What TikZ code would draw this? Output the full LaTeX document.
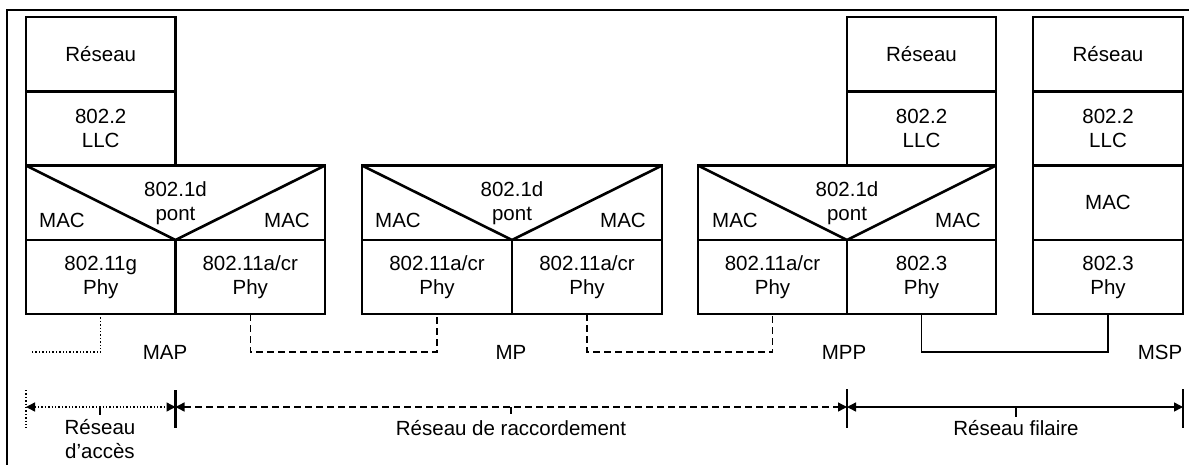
\documentclass[tikz,border=0pt]{standalone}
\usepackage{fontspec}
\setmainfont{Liberation Sans}
\usetikzlibrary{arrows.meta}
\begin{document}
\begin{tikzpicture}[x=1pt,y=-1pt,
  txt/.style={font=\fontsize{20.5}{24}\selectfont},
  cell/.style={draw, line width=2.6pt, inner sep=0pt, outer sep=0pt, align=center, txt},
  lbl/.style={inner sep=0pt, align=center, txt},
  conn/.style={line width=1.4pt},
  dotline/.style={dash pattern=on 1.4pt off 2pt},
  dashline/.style={dash pattern=on 7pt off 4pt},
  tick/.style={line width=2.2pt},
  twotip/.style={{Triangle[length=9pt,width=9pt]}-{Triangle[length=9pt,width=9pt]}},
  vee/.style={line width=2.6pt, line join=round}
]
\useasboundingbox (0,0) rectangle (1189,464);
\draw[line width=1.8pt] (7,480) -- (7,10) -- (1200,10);

% ---------- MAP ----------
\node[cell, minimum width=149.5pt, minimum height=74.5pt] (mapR) at (100.75,54.25) {Réseau};
\node[cell, minimum width=149.5pt, minimum height=74pt] (mapL) at (100.75,128.5) {802.2\\LLC};
\node[cell, minimum width=299pt, minimum height=74.5pt] (mapM) at (175.5,202.75) {};
\node[cell, minimum width=149.5pt, minimum height=74pt] (mapP1) at (100.75,277) {802.11g\\Phy};
\node[cell, minimum width=149.5pt, minimum height=74pt] (mapP2) at (250.25,277) {802.11a/cr\\Phy};
\draw[vee] (mapM.north west) -- (mapM.south) -- (mapM.north east);
\node[lbl] (mapB) at (175.5,203) {802.1d\\pont};
\node[lbl] (mapML) at (62,220) {MAC};
\node[lbl] (mapMR) at (287,220) {MAC};

% ---------- MP ----------
\node[cell, minimum width=300pt, minimum height=74.5pt] (mpM) at (512,202.75) {};
\node[cell, minimum width=150pt, minimum height=74pt] (mpP1) at (437,277) {802.11a/cr\\Phy};
\node[cell, minimum width=150pt, minimum height=74pt] (mpP2) at (587,277) {802.11a/cr\\Phy};
\draw[vee] (mpM.north west) -- (mpM.south) -- (mpM.north east);
\node[lbl] (mpB) at (512,203) {802.1d\\pont};
\node[lbl] (mpML) at (398,220) {MAC};
\node[lbl] (mpMR) at (623,220) {MAC};

% ---------- MPP ----------
\node[cell, minimum width=149pt, minimum height=74.5pt] (mppR) at (921.5,54.25) {Réseau};
\node[cell, minimum width=149pt, minimum height=74pt] (mppL) at (921.5,128.5) {802.2\\LLC};
\node[cell, minimum width=298pt, minimum height=74.5pt] (mppM) at (847,202.75) {};
\node[cell, minimum width=149pt, minimum height=74pt] (mppP1) at (772.5,277) {802.11a/cr\\Phy};
\node[cell, minimum width=149pt, minimum height=74pt] (mppP2) at (921.5,277) {802.3\\Phy};
\draw[vee] (mppM.north west) -- (mppM.south) -- (mppM.north east);
\node[lbl] (mppB) at (847,203) {802.1d\\pont};
\node[lbl] (mppML) at (735,220) {MAC};
\node[lbl] (mppMR) at (958,220) {MAC};

% ---------- MSP ----------
\node[cell, minimum width=150pt, minimum height=74.5pt] (mspR) at (1108,54.25) {Réseau};
\node[cell, minimum width=150pt, minimum height=74pt] (mspL) at (1108,128.5) {802.2\\LLC};
\node[cell, minimum width=150pt, minimum height=74.5pt] (mspM) at (1108,202.75) {MAC};
\node[cell, minimum width=150pt, minimum height=74pt] (mspP) at (1108,277) {802.3\\Phy};

% ---------- station labels ----------
\node[lbl] (lMAP) at (165,352) {MAP};
\node[lbl] (lMP) at (511,352) {MP};
\node[lbl] (lMPP) at (844,352) {MPP};
\node[lbl] (lMSP) at (1160,352) {MSP};

% ---------- links ----------
\coordinate (accEnd) at (31,352);
\draw[conn, dotline] (mapP1.south) |- (accEnd);
\draw[conn, dashline] (mapP2.south) -- ++(0,38) -| (mpP1.south);
\draw[conn, dashline] (mpP2.south) -- ++(0,38) -| (mppP1.south);
\draw[conn] (mppP2.south) -- ++(0,38) -| (mspP.south);

% ---------- network extents ----------
\coordinate (t1) at (26,407);
\coordinate (t2) at (175.5,407);
\coordinate (t3) at (847,407);
\coordinate (t4) at (1183,407);
\draw[conn, dotline] ([yshift=17pt]t1) -- ([yshift=-21pt]t1);
\draw[tick] ([yshift=17pt]t2) -- ([yshift=-21pt]t2);
\draw[tick] ([yshift=18pt]t3) -- ([yshift=-21pt]t3);
\draw[tick] ([yshift=18pt]t4) -- ([yshift=-21pt]t4);
\draw[conn, dotline, twotip] (t1) -- (t2);
\draw[conn, dashline, twotip] (t2) -- (t3);
\draw[conn, twotip] (t3) -- (t4);
\draw[conn] (100,407) -- (100,415);
\draw[conn] (511,407) -- (511,414);
\draw[conn] (1016,407) -- (1016,417);

\node[lbl] (nAcc) at (100,439) {Réseau\\d’accès};
\node[lbl] (nRac) at (511,428) {Réseau de raccordement};
\node[lbl] (nFil) at (1016,428) {Réseau filaire};
\end{tikzpicture}
\end{document}
